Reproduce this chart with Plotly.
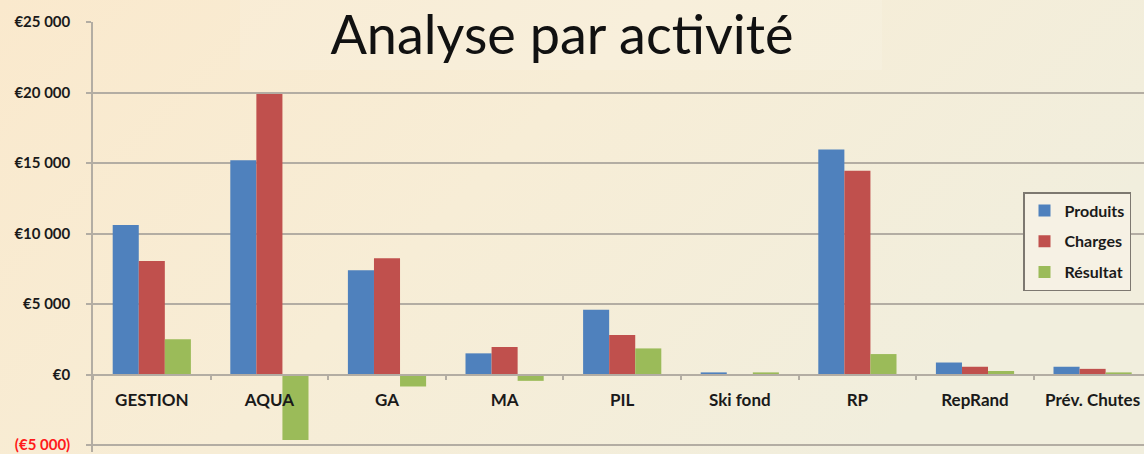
import base64
import plotly.graph_objects as go

# ---- data ----
categories = ["GESTION", "AQUA", "GA", "MA", "PIL", "Ski fond", "RP", "RepRand", "Prév. Chutes"]
produits = [10600, 15200, 7400, 1500, 4600, 150, 15950, 850, 550]
charges = [8050, 19900, 8250, 1950, 2800, 0, 14450, 550, 400]
resultat = [2500, -4650, -850, -450, 1850, 150, 1450, 250, 150]
y_tickvals = [-5000, 0, 5000, 10000, 15000, 20000, 25000]
y_ticktext = ['<span style="color:#FF1A1A">(€5 000)</span>', "€0", "€5 000", "€10 000",
              "€15 000", "€20 000", "€25 000"]
series_names = ["Produits", "Charges", "Résultat"]
series_colors = ["#4F81BD", "#C0504D", "#9BBB59"]

W, H = 1144, 454
ML, MR, MT, MB = 93, 0, 22, 2
pw, ph = W - ML - MR, H - MT - MB
PX_PER_UNIT = 423 / 30000
YMAX = 25000
YMIN = YMAX - ph / PX_PER_UNIT

fig = go.Figure()
for name, vals, col in zip(series_names, [produits, charges, resultat], series_colors):
    fig.add_trace(go.Bar(x=categories, y=vals, name=name, marker_color=col,
                         marker_line_width=0, legendgroup=name))

# background gradient
svg = ('<svg xmlns="http://www.w3.org/2000/svg" width="1144" height="454">'
       '<defs><linearGradient id="g" x1="0" y1="0" x2="1" y2="0.4">'
       '<stop offset="0" stop-color="#FAE9CD"/><stop offset="0.5" stop-color="#F7EDD6"/>'
       '<stop offset="1" stop-color="#F1EEDD"/></linearGradient></defs>'
       '<rect width="1144" height="454" fill="url(#g)"/></svg>')
uri = "data:image/svg+xml;base64," + base64.b64encode(svg.encode()).decode()

grid = "#B3ADA3"
fig.update_layout(
    width=W, height=H,
    margin=dict(l=ML, r=MR, t=MT, b=MB, pad=0, autoexpand=False),
    paper_bgcolor="#F7ECD5", plot_bgcolor="rgba(0,0,0,0)",
    images=[dict(source=uri, xref="paper", yref="paper", x=-ML / pw, y=1 + MT / ph,
                 sizex=W / pw, sizey=H / ph, sizing="stretch", layer="below",
                 xanchor="left", yanchor="top")],
    barmode="group", bargap=0.335, bargroupgap=0,
    title=dict(text="Analyse par activité", x=(562 - ML) / pw, xanchor="center", xref="paper",
               y=1 - 35 / H, yanchor="middle", yref="container", automargin=False,
               font=dict(family="Lato", size=54, color="#111111")),
    shapes=[dict(type="rect", xref="paper", yref="paper",
                 x0=(240 - ML) / pw, x1=(882 - ML) / pw,
                 y0=1 - (70 - MT) / ph, y1=1 + MT / ph,
                 fillcolor="rgba(255,255,255,0.12)", line_width=0, layer="between")],
    legend=dict(x=(1131 - ML) / pw, y=1 - (192 - MT) / ph, xanchor="right", yanchor="top",
                bgcolor="#F6F1E4", bordercolor="#7D7870", borderwidth=1.5,
                font=dict(family="Lato", size=16, color="#1A1A1A", weight="bold"),
                tracegroupgap=7, itemwidth=30),
    xaxis=dict(type="category", range=[-0.5, -0.5 + pw / 117.6], anchor="free",
               position=(0 - YMIN) / (YMAX - YMIN), showline=True, linecolor=grid,
               linewidth=1.5, ticks="outside", ticklen=5, tickcolor=grid, tickwidth=1.5,
               tickson="boundaries", showgrid=False, ticklabelstandoff=10,
               tickfont=dict(family="Lato", size=17, color="#1A1A1A", weight="bold")),
    yaxis=dict(range=[YMIN, YMAX], tickvals=y_tickvals, ticktext=y_ticktext,
               showgrid=True, gridcolor=grid, gridwidth=1.5, zeroline=False,
               showline=True, linecolor=grid, linewidth=1.5, ticks="outside", ticklen=5,
               tickcolor=grid, tickwidth=1.5, ticklabelstandoff=13, ticklabeloverflow="allow",
               tickfont=dict(family="Lato", size=15, color="#1A1A1A", weight="bold")),
)

fig.write_html("out.html", config={"displayModeBar": False},
               post_script="document.body.style.margin='0';")
